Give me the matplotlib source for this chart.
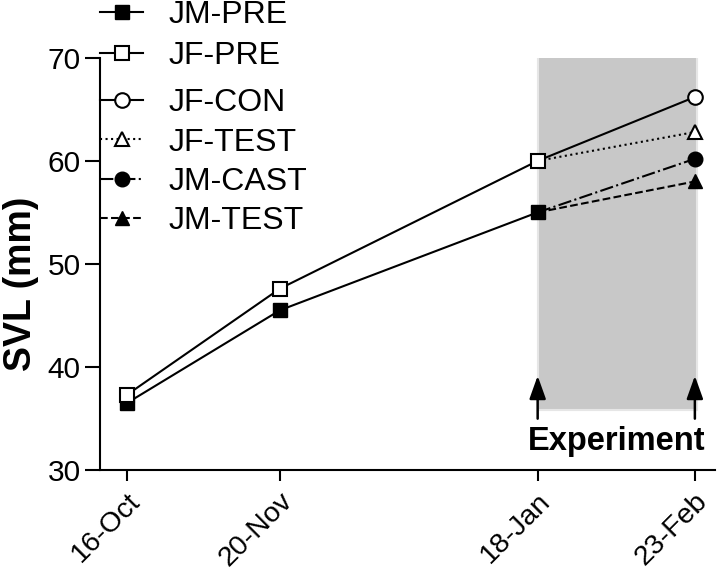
import matplotlib
matplotlib.use("Agg")
import matplotlib.pyplot as plt
from matplotlib.patches import Rectangle

plt.rcParams['font.family'] = ['Liberation Sans', 'DejaVu Sans']

# Dados
datas = ['16-Oct', '20-Nov', '18-Jan', '23-Feb']
dias = [0, 35, 94, 130]  # dias desde 16-Oct

jm_pre = [36.5, 45.5, 55.0]
jf_pre = [37.3, 47.6, 60.0]
jf_con = [60.0, 66.2]
jf_test = [60.0, 62.8]
jm_cast = [55.0, 60.2]
jm_test = [55.0, 58.0]

fig = plt.figure(figsize=(7.2, 5.73), dpi=100)
ax = fig.add_axes([0.139, 0.180, 0.854, 0.719])

# Faixa do experimento
ax.add_patch(Rectangle((dias[2], 35.8), dias[3] + 0.6 - dias[2], 70.2 - 35.8,
                       facecolor='#c8c8c8', edgecolor='#e6e6e6', linewidth=1.5, zorder=0))

lw = 1.5
ms = 9.5
h1, = ax.plot(dias[:3], jm_pre, '-', color='black', lw=lw, marker='s', ms=ms,
              mfc='black', mec='black', label='JM-PRE', zorder=3)
h2, = ax.plot(dias[:3], jf_pre, '-', color='black', lw=lw, marker='s', ms=ms,
              mfc='white', mec='black', mew=1.5, label='JF-PRE', zorder=3)
h3, = ax.plot(dias[2:], jf_con, '-', color='black', lw=lw, marker='o', ms=ms + 1,
              mfc='white', mec='black', mew=1.5, markevery=[1], label='JF-CON')
h4, = ax.plot(dias[2:], jf_test, ':', color='black', lw=lw, marker='^', ms=ms + 1,
              mfc='white', mec='black', mew=1.5, markevery=[1], label='JF-TEST')
h5, = ax.plot(dias[2:], jm_cast, '-.', color='black', lw=lw, marker='o', ms=ms + 1,
              mfc='black', mec='black', markevery=[1], label='JM-CAST')
h6, = ax.plot(dias[2:], jm_test, '--', color='black', lw=lw, marker='^', ms=ms + 1,
              mfc='black', mec='black', markevery=[1], label='JM-TEST')

# Setas do experimento
for d in (dias[2], dias[3]):
    ax.annotate('', xy=(d, 39.4), xytext=(d, 34.7),
                arrowprops=dict(arrowstyle='-|>,head_width=0.5,head_length=1.4',
                                color='black', lw=1.8))
ax.text((dias[2] + dias[3]) / 2, 32.8, 'Experiment', ha='center', va='center',
        fontsize=23.5, fontweight='bold')

ax.set_xlim(-6.2, 134.6)
ax.set_ylim(30, 70)
ax.set_xticks(dias)
ax.set_xticklabels(datas, rotation=45, ha='right', rotation_mode='anchor')
ax.set_yticks([30, 40, 50, 60, 70])
ax.tick_params(axis='y', labelsize=21.5, length=11, width=1.5, pad=3)
ax.tick_params(axis='x', labelsize=20.5, length=8, width=1.5, pad=5)
ax.set_ylabel('SVL (mm)', fontsize=27, fontweight='bold')
ax.yaxis.set_label_coords(-0.1, 0.451)

for s in ('top', 'right'):
    ax.spines[s].set_visible(False)
for s in ('left', 'bottom'):
    ax.spines[s].set_linewidth(1.5)

# Legenda em dois blocos (espaçamento irregular como no original)
kw = dict(frameon=False, fontsize=23, handlelength=1.35, handletextpad=0.78,
          borderpad=0, borderaxespad=0)
fig.legend(handles=[h1, h2], loc='upper left', bbox_to_anchor=(0.139, 1.0),
           labelspacing=0.35, **kw)
fig.legend(handles=[h3, h4, h5, h6], loc='upper left', bbox_to_anchor=(0.139, 0.846),
           labelspacing=0.29, **kw)

fig.savefig('out.png', dpi=100)
